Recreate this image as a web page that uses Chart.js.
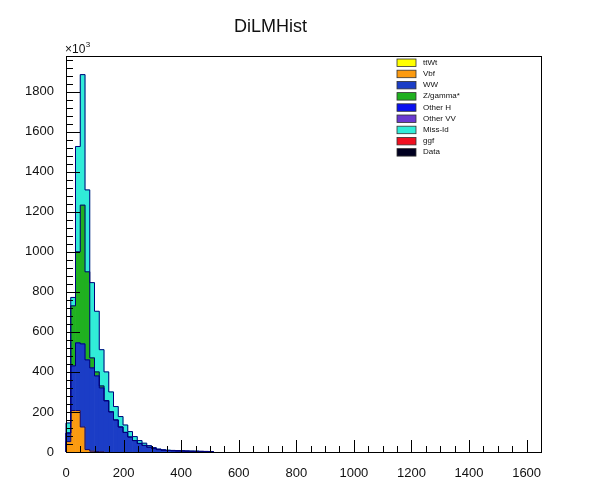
<!DOCTYPE html>
<html>
<head>
<meta charset="utf-8">
<title>DiLMHist</title>
<script src="https://cdn.jsdelivr.net/npm/chart.js@4.4.1/dist/chart.umd.min.js"></script>
<style>
  html, body { margin: 0; padding: 0; background: #fff; }
  #wrap { width: 595px; height: 498px; }
</style>
</head>
<body>
<div id="wrap"><canvas id="chartDiLM" width="595" height="498"></canvas></div>
<script>
// ======================================
// DATA (bin contents in units of 10^3, first bin starts at 0)
// ======================================

const BIN_WIDTH = 16.5;
const X_MAX = 1650;
const Y_MAX = 1980;

const xTicks = [0, 200, 400, 600, 800, 1000, 1200, 1400, 1600];
const yTicks = [0, 200, 400, 600, 800, 1000, 1200, 1400, 1600, 1800];

const ttWt = [];
const vbf = [52, 207, 207, 125, 12, 4, 2, 1];
const ww = [43, 223, 338, 415, 448, 416, 378, 319, 255, 200, 160, 125, 98, 75, 57,
  43, 33, 24, 17, 12, 9, 7.5, 6.5, 5.5, 5, 4, 3.5, 3.2, 2.8, 2.4, 2];
const zGamma = [0, 300, 455, 693, 440, 50, 20, 10, 2, 1];
const otherH = [];
const otherVV = [];
const missId = [50, 42, 526, 652, 409, 376, 303, 181, 143, 99, 67, 52, 37, 27, 20,
  14, 11, 8, 5, 3, 2, 1.5, 1.5, 1.5, 1, 1, 1, 0.8, 0.7, 0.6, 0.5];
const ggf = [];
const dataObs = [];

// urutan stack: pertama = paling bawah
const samples = [
  { label: "ttWt", values: ttWt, color: "#ffff00" },
  { label: "Vbf", values: vbf, color: "#fb9a10" },
  { label: "WW", values: ww, color: "#1b3dc6" },
  { label: "Z/gamma*", values: zGamma, color: "#20b020" },
  { label: "Other H", values: otherH, color: "#0a10f0" },
  { label: "Other VV", values: otherVV, color: "#6a3ad0" },
  { label: "Miss-Id", values: missId, color: "#30ecd8" },
  { label: "ggf", values: ggf, color: "#f01020" },
];
const dataSample = { label: "Data", values: dataObs, color: "#000020" };

const OUTLINE = "#00007a";
const FONT = "'Liberation Sans', Arial, Helvetica, sans-serif";

// ======================================
// PLUGIN: frame, ticks ke dalam, outline histogram, legend
// ======================================

const rootStyle = {
  id: "rootStyle",
  afterDatasetsDraw(chart) {
    const { ctx, chartArea: a, scales } = chart;
    const x = scales.x;
    const y = scales.y;
    ctx.save();

    // outline tiap level kumulatif
    ctx.strokeStyle = OUTLINE;
    ctx.lineWidth = 1;
    const cum = [];
    samples.forEach((s) => {
      if (!s.values.length) return;
      s.values.forEach((v, i) => {
        cum[i] = (cum[i] || 0) + v;
      });
      for (let i = 0; i < cum.length; i++) if (cum[i] === undefined) cum[i] = 0;
      ctx.beginPath();
      ctx.moveTo(x.getPixelForValue(0), y.getPixelForValue(0));
      cum.forEach((v, i) => {
        ctx.lineTo(x.getPixelForValue(i * BIN_WIDTH), y.getPixelForValue(v));
        ctx.lineTo(x.getPixelForValue((i + 1) * BIN_WIDTH), y.getPixelForValue(v));
      });
      ctx.lineTo(x.getPixelForValue(cum.length * BIN_WIDTH), y.getPixelForValue(0));
      ctx.stroke();
    });

    // frame
    ctx.strokeStyle = "#000";
    ctx.lineWidth = 1;
    ctx.strokeRect(Math.round(a.left) + 0.5, Math.round(a.top) + 0.5,
      Math.round(a.right - a.left), Math.round(a.bottom - a.top));

    // tick marks (gaya ROOT: ke dalam)
    ctx.beginPath();
    for (let v = 0; v <= X_MAX; v += 50) {
      const px = Math.round(x.getPixelForValue(v)) + 0.5;
      const len = xTicks.includes(v) ? 12 : 6;
      ctx.moveTo(px, a.bottom);
      ctx.lineTo(px, a.bottom - len);
    }
    for (let v = 0; v <= Y_MAX; v += 40) {
      const py = Math.round(y.getPixelForValue(v)) + 0.5;
      const len = yTicks.includes(v) ? 14 : 7;
      ctx.moveTo(a.left, py);
      ctx.lineTo(a.left + len, py);
    }
    ctx.stroke();

    // x10^3
    ctx.fillStyle = "#111";
    ctx.textBaseline = "alphabetic";
    ctx.textAlign = "left";
    ctx.font = "12px " + FONT;
    ctx.fillText("\u00d710", a.left - 1, a.top - 3);
    const w = ctx.measureText("\u00d710").width;
    ctx.font = "8px " + FONT;
    ctx.fillText("3", a.left - 1 + w + 0.5, a.top - 9);
    ctx.restore();
  },
  afterDraw(chart) {
    const { ctx } = chart;
    ctx.save();
    const entries = [...samples, dataSample];
    ctx.font = "8px " + FONT;
    ctx.textBaseline = "middle";
    ctx.textAlign = "left";
    entries.forEach((s, i) => {
      const cy = 62.5 + i * 11.2;
      ctx.fillStyle = s.color;
      ctx.fillRect(397, cy - 3.5, 19, 7.5);
      ctx.strokeStyle = "#333";
      ctx.lineWidth = 0.8;
      ctx.strokeRect(397, cy - 3.5, 19, 7.5);
      ctx.fillStyle = "#111";
      ctx.fillText(s.label, 423, cy);
    });
    ctx.restore();
  },
};

// ======================================
// CHART
// ======================================

const datasets = samples.map((s) => ({
  label: s.label,
  data: s.values.map((v, i) => ({ x: (i + 0.5) * BIN_WIDTH, y: v })),
  backgroundColor: s.color,
  borderWidth: 0,
  barPercentage: 1,
  categoryPercentage: 1,
}));

new Chart(document.getElementById("chartDiLM"), {
  type: "bar",
  data: { datasets },
  plugins: [rootStyle],
  options: {
    responsive: false,
    animation: false,
    layout: { padding: { left: 0, right: 54, top: 0, bottom: 0 } },
    plugins: {
      legend: { display: false },
      tooltip: { enabled: false },
      title: {
        display: true,
        text: "DiLMHist",
        color: "#111",
        font: { family: FONT, size: 18, weight: "normal" },
        padding: { top: 16, bottom: 18 },
      },
    },
    scales: {
      x: {
        type: "linear",
        stacked: true,
        offset: false,
        min: 0,
        max: X_MAX,
        grid: { display: false, offset: false },
        border: { display: false },
        afterBuildTicks: (scale) => {
          scale.ticks = xTicks.map((v) => ({ value: v }));
        },
        afterFit: (scale) => {
          scale.height = 46;
        },
        ticks: {
          autoSkip: false,
          maxRotation: 0,
          padding: 6,
          color: "#111",
          font: { family: FONT, size: 13 },
          callback: (v) => String(v),
        },
      },
      y: {
        stacked: true,
        min: 0,
        max: Y_MAX,
        grid: { display: false },
        border: { display: false },
        afterBuildTicks: (scale) => {
          scale.ticks = yTicks.map((v) => ({ value: v }));
        },
        afterFit: (scale) => {
          scale.width = 66;
        },
        ticks: {
          padding: 4,
          color: "#111",
          font: { family: FONT, size: 13 },
          callback: (v) => String(v),
        },
      },
    },
  },
});
</script>
</body>
</html>
